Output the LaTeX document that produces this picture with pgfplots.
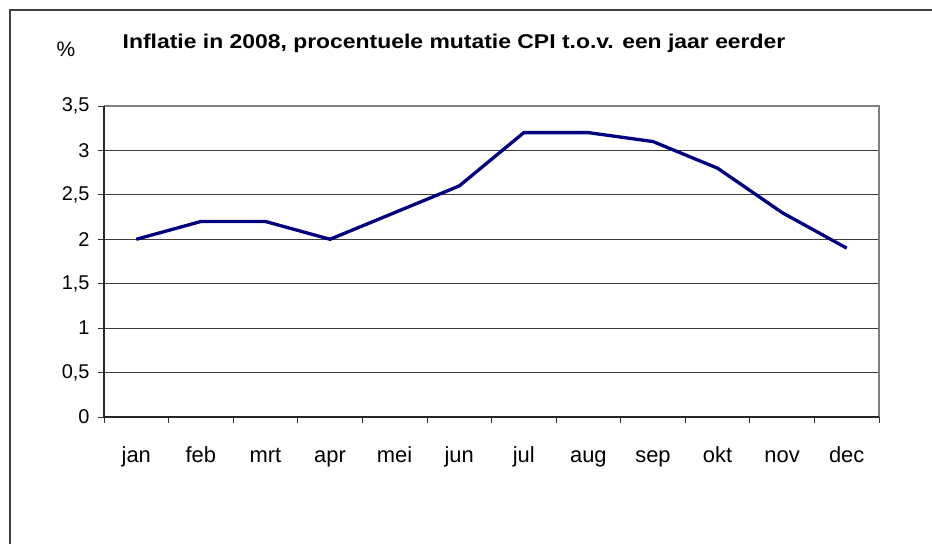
\documentclass[border=0pt]{standalone}
\usepackage{pgfplots}
\pgfplotsset{compat=1.18}
\usepackage{fontspec}
\setmainfont{Liberation Sans}
\newfontfamily\titlefont[FakeStretch=1.15]{Liberation Sans}
\definecolor{navyline}{RGB}{0,0,128}
\definecolor{gridc}{RGB}{60,60,60}
\begin{document}
\begin{tikzpicture}[x=1bp,y=1bp]
\path[use as bounding box] (0,0) rectangle (932,544);
\draw[line width=1.5bp,black!75] (10,0) -- (10,534) -- (932,534);
\node[font=\fontsize{20}{23}\titlefont\bfseries, anchor=base] at (454,495) {Inflatie in 2008, procentuele mutatie CPI t.o.v. een jaar eerder};
\node[font=\fontsize{21}{24}\selectfont, anchor=base] at (66,487) {\%};
\begin{axis}[
  at={(104bp,127bp)}, anchor=south west,
  scale only axis, width=775bp, height=311bp,
  xmin=-0.5, xmax=11.5, ymin=0, ymax=3.5,
  xtick={0,...,11},
  xticklabels={jan,feb,mrt,apr,mei,jun,jul,aug,sep,okt,nov,dec},
  minor xtick={-0.5,0.5,...,11.5},
  ytick={0,0.5,...,3.5},
  yticklabels={0,{0,5},1,{1,5},2,{2,5},3,{3,5}},
  xtick pos=bottom, ytick pos=left,
  major x tick style={draw=none},
  minor x tick style={black!80, line width=0.8bp},
  y tick style={black!80, line width=0.8bp},
  tick align=outside,
  minor tick length=6bp,
  major tick length=6bp,
  ymajorgrids,
  grid style={gridc, line width=0.9bp},
  axis line style={draw=none},
  xticklabel style={font=\fontsize{22}{24}\selectfont, anchor=base, yshift=-40bp},
  yticklabel style={font=\fontsize{20}{22}\selectfont, xshift=-5bp},
  clip=false,
]
\draw[gray, line width=1.5bp] (axis cs:-0.5,3.5) -- (axis cs:11.5,3.5) -- (axis cs:11.5,0);
\draw[black!85, line width=1.2bp] (axis cs:-0.5,3.5) -- (axis cs:-0.5,0) -- (axis cs:11.5,0);
\addplot[navyline, line width=3.3bp, mark=none, line join=round] coordinates {
(0,2.0) (1,2.2) (2,2.2) (3,2.0) (4,2.3) (5,2.6) (6,3.2) (7,3.2) (8,3.1) (9,2.8) (10,2.3) (11,1.9)
};
\end{axis}
\end{tikzpicture}
\end{document}
